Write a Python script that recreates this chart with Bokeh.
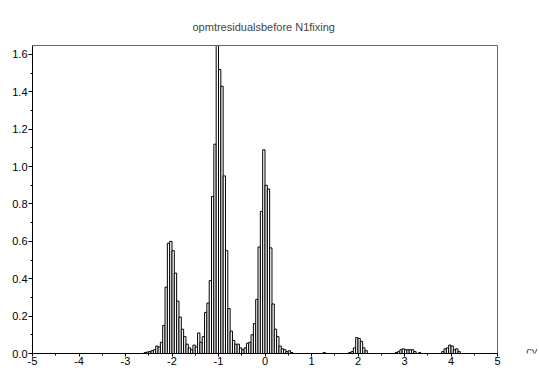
from bokeh.plotting import figure
from bokeh.models import (SingleIntervalTicker, PrintfTickFormatter, Label, Range1d,
                          LinearAxis, FixedTicker, Span)
from bokeh.embed import file_html
from bokeh.resources import INLINE

title_text = "opmtresidualsbefore N1fixing"
x_label = "cy"
bin_width = 0.05
x_min, x_max = -5, 5
y_max = 1.648

bin_left = [
    -2.60, -2.55, -2.50, -2.45, -2.40, -2.35, -2.30, -2.25, -2.20, -2.15,
    -2.10, -2.05, -2.00, -1.95, -1.90, -1.85, -1.80, -1.75, -1.70, -1.65,
    -1.60, -1.55, -1.50, -1.45, -1.40, -1.35, -1.30, -1.25, -1.20, -1.15,
    -1.10, -1.05, -1.00, -0.95, -0.90, -0.85, -0.80, -0.75, -0.70, -0.65,
    -0.60, -0.55, -0.50, -0.45, -0.40, -0.35, -0.30, -0.25, -0.20, -0.15,
    -0.10, -0.05, 0.00, 0.05, 0.10, 0.15, 0.20, 0.25, 0.30, 0.35,
    0.40, 0.45, 0.50, 0.55,
    1.25,
    1.80, 1.85, 1.90, 1.95, 2.00, 2.05, 2.10, 2.15,
    2.80, 2.85, 2.90, 2.95, 3.00, 3.05, 3.10, 3.15, 3.20, 3.30,
    3.80, 3.85, 3.90, 3.95, 4.00, 4.05, 4.10, 4.15,
]
density = [
    0.005, 0.008, 0.010, 0.015, 0.020, 0.040, 0.035, 0.060, 0.150, 0.355,
    0.590, 0.600, 0.550, 0.430, 0.280, 0.195, 0.130, 0.090, 0.050, 0.030,
    0.020, 0.045, 0.035, 0.110, 0.060, 0.090, 0.220, 0.270, 0.390, 0.840,
    1.120, 1.700, 1.520, 1.430, 0.950, 0.550, 0.240, 0.120, 0.070, 0.050,
    0.050, 0.030, 0.020, 0.030, 0.055, 0.060, 0.100, 0.160, 0.290, 0.570,
    0.760, 1.090, 0.900, 0.880, 0.565, 0.265, 0.130, 0.090, 0.040, 0.025,
    0.020, 0.010, 0.015, 0.005,
    0.005,
    0.005, 0.010, 0.030, 0.085, 0.080, 0.065, 0.030, 0.015,
    0.005, 0.010, 0.020, 0.025, 0.020, 0.020, 0.020, 0.020, 0.010, 0.005,
    0.010, 0.025, 0.030, 0.045, 0.040, 0.020, 0.025, 0.010,
]
bin_right = [b + bin_width for b in bin_left]

# frame extends past x=5 so that the "cy" label can sit to the right of the axis end
p = figure(width=539, height=370, output_backend="svg", toolbar_location=None,
           x_range=Range1d(x_min, 5.903), y_range=Range1d(0, y_max),
           min_border_left=32, min_border_right=0, min_border_top=45,
           min_border_bottom=17, x_axis_location=None, y_axis_location="left")

p.quad(left=bin_left, right=bin_right, top=density, bottom=0,
       fill_color="white", line_color="black", line_width=1)

p.title.text = title_text
p.title.align = "left"
p.title.offset = 160
p.title.text_font = "Liberation Sans"
p.title.text_font_size = "11px"
p.title.text_font_style = "normal"
p.title.standoff = 25

p.xgrid.visible = False
p.ygrid.visible = False
p.background_fill_color = "white"
p.border_fill_color = "white"
p.outline_line_color = None

xaxis = LinearAxis(ticker=SingleIntervalTicker(interval=1, num_minor_ticks=2),
                   formatter=PrintfTickFormatter(format="%d"), bounds=(x_min, x_max))
p.add_layout(xaxis, "below")
top_axis = LinearAxis(ticker=FixedTicker(ticks=[]), bounds=(x_min, x_max),
                      major_label_text_font_size="0px", axis_line_color="#666666",
                      major_tick_out=0, minor_tick_out=0)
p.add_layout(top_axis, "above")
p.add_layout(Span(location=x_max, dimension="height", line_color="#666666", line_width=1))

p.yaxis.ticker = SingleIntervalTicker(interval=0.2, num_minor_ticks=2)
p.yaxis.formatter = PrintfTickFormatter(format="%.1f")
for ax in (xaxis, p.yaxis[0]):
    ax.axis_line_color = "black"
    ax.major_tick_line_color = "black"
    ax.minor_tick_line_color = "black"
    ax.major_tick_in = 0
    ax.minor_tick_in = 0
    ax.minor_tick_out = 2
    ax.major_label_text_font = "Liberation Sans"
    ax.major_label_text_font_size = "11px"
    ax.major_label_text_color = "black"
xaxis.major_tick_out = 3
xaxis.major_label_standoff = 0
p.yaxis.major_tick_out = 4
p.yaxis.major_label_standoff = 1

p.add_layout(Label(x=5.62, y=0.012, text=x_label,
                   text_font="Liberation Sans", text_font_size="11px",
                   text_baseline="alphabetic", text_align="left"))

open("out.html", "w").write(file_html(p, INLINE))
